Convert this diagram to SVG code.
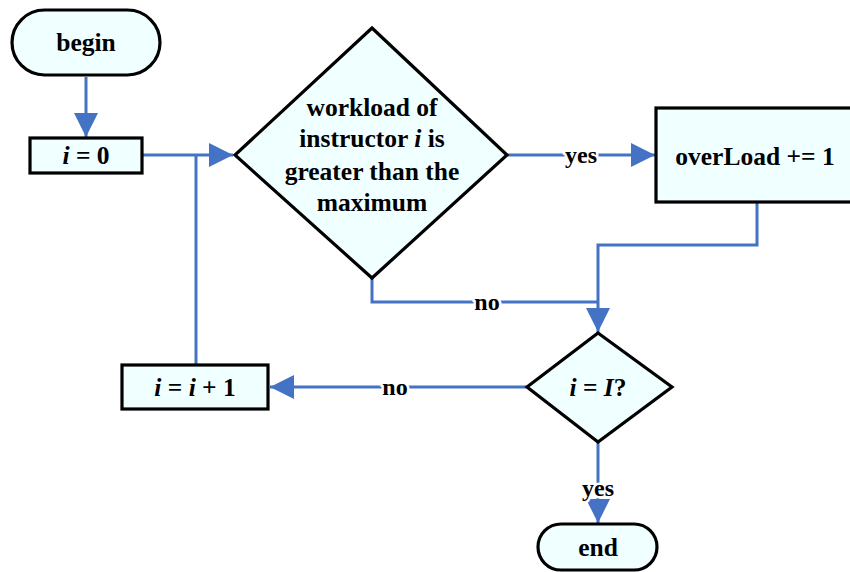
<svg xmlns="http://www.w3.org/2000/svg" width="850" height="572" viewBox="0 0 850 572">
<style>
.shape{fill:#F0FFFF;stroke:#000;stroke-width:3.2}
.t{font-family:"Liberation Serif","Times New Roman",serif;font-weight:bold;font-size:25.5px;fill:#000;text-anchor:middle}
.lbl{font-family:"Liberation Serif","Times New Roman",serif;font-weight:bold;font-size:24px;fill:#000;text-anchor:middle;stroke:#fff;stroke-width:5;paint-order:stroke}
.c{fill:none;stroke:#4472C4;stroke-width:3}
</style>
<defs>
<marker id="ah" viewBox="0 0 10 10" refX="10" refY="5" markerWidth="8" markerHeight="8" markerUnits="strokeWidth" orient="auto">
<path d="M0,0 L10,5 L0,10 Z" fill="#4472C4"/>
</marker>
</defs>
<rect width="850" height="572" fill="#fff"/>
<g id="connectors">
<path class="c" d="M86,77 V137" marker-end="url(#ah)"/>
<path class="c" d="M142,155 H233" marker-end="url(#ah)"/>
<path class="c" d="M196,365 V155"/>
<path class="c" d="M507,155 H655" marker-end="url(#ah)"/>
<path class="c" d="M757,202 V245 H598 V332" marker-end="url(#ah)"/>
<path class="c" d="M372,278 V302 H598"/>
<path class="c" d="M527,387 H270" marker-end="url(#ah)"/>
<path class="c" d="M598,442 V523" marker-end="url(#ah)"/>
<text class="lbl" x="581" y="163">yes</text>
<text class="lbl" x="487" y="310">no</text>
<text class="lbl" x="395" y="395">no</text>
<text class="lbl" x="598" y="496">yes</text>
</g>
<g id="begin">
<rect class="shape" x="12" y="10" width="148" height="65" rx="32.5"/>
<text class="t" x="86" y="51">begin</text>
</g>
<g id="init">
<rect class="shape" x="30" y="138" width="112" height="35"/>
<text class="t" x="86" y="164"><tspan font-style="italic">i</tspan> = 0</text>
</g>
<g id="check">
<polygon class="shape" points="372,28 507,155 372,278 235,155"/>
<text class="t" x="372" y="116">workload of</text>
<text class="t" x="372" y="147">instructor <tspan font-style="italic">i</tspan> is</text>
<text class="t" x="372" y="180">greater than the</text>
<text class="t" x="372" y="211">maximum</text>
</g>
<g id="overload">
<rect class="shape" x="656" y="108" width="210" height="94"/>
<text class="t" x="755" y="165">overLoad += 1</text>
</g>
<g id="loopcheck">
<polygon class="shape" points="598,333 672,387 598,442 527,387"/>
<text class="t" x="598" y="396"><tspan font-style="italic">i</tspan> = <tspan font-style="italic">I</tspan>?</text>
</g>
<g id="increment">
<rect class="shape" x="122" y="365" width="146" height="44"/>
<text class="t" x="195" y="396"><tspan font-style="italic">i</tspan> = <tspan font-style="italic">i</tspan> + 1</text>
</g>
<g id="end">
<rect class="shape" x="538" y="524" width="119" height="46" rx="23"/>
<text class="t" x="598" y="556">end</text>
</g>
</svg>
